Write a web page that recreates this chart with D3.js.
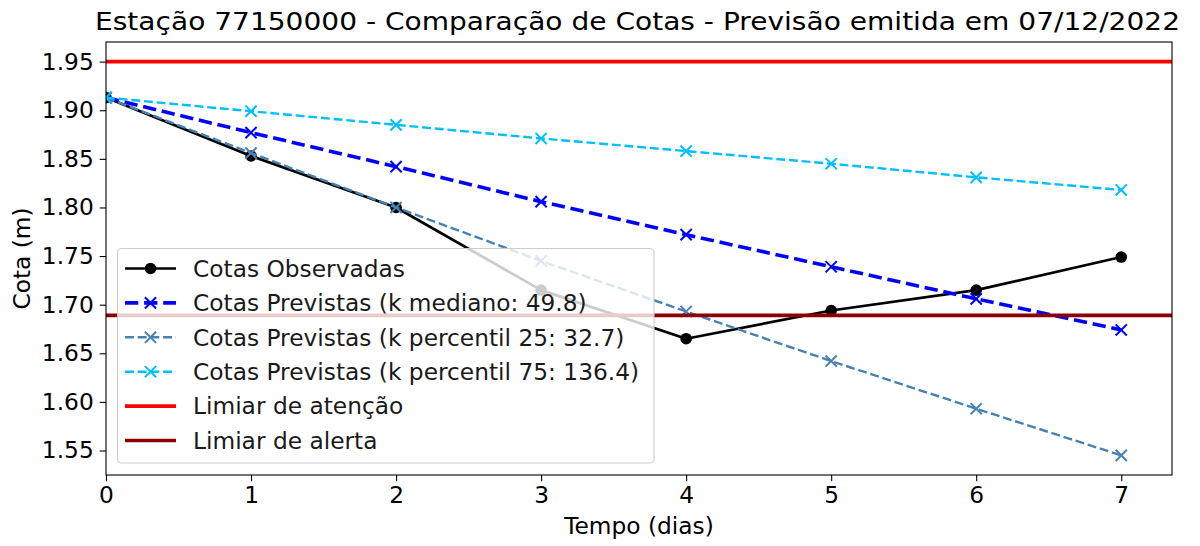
<!DOCTYPE html>
<html>
<head>
<meta charset="utf-8">
<style>
  body { margin: 0; background: #fff; }
  svg { display: block; font-family: "DejaVu Sans", sans-serif; }
</style>
</head>
<body>
<svg width="1200" height="546"></svg>
<script src="https://cdnjs.cloudflare.com/ajax/libs/d3/7.8.5/d3.min.js"></script>
<script>
// dias de previsao
var dias = [0, 1, 2, 3, 4, 5, 6, 7];
var observadas = [1.913, 1.853, 1.800, 1.715, 1.665, 1.694, 1.715, 1.749];
var kMediano = [1.913, 1.877, 1.842, 1.806, 1.772, 1.739, 1.706, 1.674];
var kP25 = [1.913, 1.856, 1.800, 1.745, 1.693, 1.642, 1.593, 1.545];
var kP75 = [1.913, 1.899, 1.885, 1.871, 1.858, 1.845, 1.831, 1.818];
var limiarAtencao = 1.95;
var limiarAlerta = 1.689;
var yTicks = [1.55, 1.60, 1.65, 1.70, 1.75, 1.80, 1.85, 1.90, 1.95];
var xTicks = [0, 1, 2, 3, 4, 5, 6, 7];

var titulo = "Estação 77150000 - Comparação de Cotas - Previsão emitida em 07/12/2022";
var fs = 23.3;

var svg = d3.select("svg"),
    margin = {top: 42, right: 28, bottom: 71, left: 106},
    width = 1200 - margin.left - margin.right,
    height = 546 - margin.top - margin.bottom;

var x = d3.scaleLinear().domain([0, 7.35]).range([margin.left, margin.left + width]);
var y = d3.scaleLinear().domain([1.5248, 1.9702]).range([margin.top + height, margin.top]);

var line = d3.line()
    .x(function(d, i) { return x(dias[i]); })
    .y(function(d) { return y(d); });

svg.append("clipPath").attr("id", "area")
  .append("rect")
    .attr("x", margin.left).attr("y", margin.top)
    .attr("width", width).attr("height", height);

var plot = svg.append("g").attr("clip-path", "url(#area)");

var series = [
  {nome: "Cotas Observadas", data: observadas, cor: "black", lw: 2.7, dash: null, marker: "o"},
  {nome: "Cotas Previstas (k mediano: 49.8)", data: kMediano, cor: "blue", lw: 3.6, dash: "13.3,5.8", marker: "x"},
  {nome: "Cotas Previstas (k percentil 25: 32.7)", data: kP25, cor: "steelblue", lw: 2.4, dash: "8.9,3.8", marker: "x"},
  {nome: "Cotas Previstas (k percentil 75: 136.4)", data: kP75, cor: "deepskyblue", lw: 2.4, dash: "8.9,3.8", marker: "x"}
];

function drawMarker(g, m, cx, cy, cor) {
  if (m === "o") {
    g.append("circle").attr("cx", cx).attr("cy", cy).attr("r", 5.8).attr("fill", cor);
  } else {
    var s = 5.6;
    g.append("path")
      .attr("d", "M" + (cx - s) + "," + (cy - s) + "L" + (cx + s) + "," + (cy + s) +
                 "M" + (cx - s) + "," + (cy + s) + "L" + (cx + s) + "," + (cy - s))
      .attr("stroke", cor).attr("stroke-width", 2).attr("fill", "none");
  }
}

series.forEach(function(s) {
  plot.append("path")
    .attr("d", line(s.data))
    .attr("fill", "none")
    .attr("stroke", s.cor)
    .attr("stroke-width", s.lw)
    .attr("stroke-dasharray", s.dash)
    .attr("stroke-linejoin", "round");
  var mg = plot.append("g");
  s.data.forEach(function(v, i) { drawMarker(mg, s.marker, x(dias[i]), y(v), s.cor); });
});

// limiares
plot.append("line")
  .attr("x1", margin.left).attr("x2", margin.left + width)
  .attr("y1", y(limiarAtencao)).attr("y2", y(limiarAtencao))
  .attr("stroke", "red").attr("stroke-width", 3.6);
plot.append("line")
  .attr("x1", margin.left).attr("x2", margin.left + width)
  .attr("y1", y(limiarAlerta)).attr("y2", y(limiarAlerta))
  .attr("stroke", "darkred").attr("stroke-width", 3.6);

// eixos
var xAxis = svg.append("g")
  .attr("transform", "translate(0," + (margin.top + height) + ")")
  .call(d3.axisBottom(x).tickValues(xTicks).tickFormat(d3.format("d")).tickSizeOuter(0).tickSize(6.3).tickPadding(5.5));
var yAxis = svg.append("g")
  .attr("transform", "translate(" + margin.left + ",0)")
  .call(d3.axisLeft(y).tickValues(yTicks).tickFormat(d3.format(".2f")).tickSizeOuter(0).tickSize(6.3).tickPadding(6));

[xAxis, yAxis].forEach(function(a) {
  a.select(".domain").remove();
  a.selectAll("line").attr("stroke", "black").attr("stroke-width", 1.1);
  a.selectAll("text").attr("font-family", "DejaVu Sans").attr("font-size", fs).attr("fill", "black");
});

svg.append("rect")
  .attr("x", margin.left).attr("y", margin.top)
  .attr("width", width).attr("height", height)
  .attr("fill", "none").attr("stroke", "black").attr("stroke-width", 1.1);

// legenda
var leg = svg.append("g");
leg.append("rect")
  .attr("x", 117.5).attr("y", 248.5).attr("width", 536.5).attr("height", 214.5)
  .attr("rx", 4).attr("fill", "white").attr("fill-opacity", 0.8)
  .attr("stroke", "#cccccc").attr("stroke-width", 1.1);

var legItems = series.concat([
  {nome: "Limiar de atenção", cor: "red", lw: 3.6, dash: null, marker: null},
  {nome: "Limiar de alerta", cor: "darkred", lw: 3.6, dash: null, marker: null}
]);
legItems.forEach(function(s, i) {
  var ly = 268.5 + i * 34.4;
  leg.append("line")
    .attr("x1", 125).attr("x2", 176).attr("y1", ly).attr("y2", ly)
    .attr("stroke", s.cor).attr("stroke-width", s.lw).attr("stroke-dasharray", s.dash);
  if (s.marker) drawMarker(leg, s.marker, 150.5, ly, s.cor);
  leg.append("text")
    .attr("x", 193).attr("y", ly + 8.3)
    .attr("font-size", fs).attr("fill", "#1a1a1a")
    .text(s.nome);
});

// titulos
svg.append("text")
  .attr("x", 95).attr("y", 29.5)
  .attr("font-size", 25.5).attr("fill", "black")
  .attr("textLength", 1085).attr("lengthAdjust", "spacingAndGlyphs")
  .text(titulo);
svg.append("text")
  .attr("x", margin.left + width / 2).attr("y", 534)
  .attr("text-anchor", "middle").attr("font-size", fs).attr("fill", "black")
  .text("Tempo (dias)");
svg.append("text")
  .attr("transform", "translate(30," + (margin.top + height / 2) + ") rotate(-90)")
  .attr("text-anchor", "middle").attr("font-size", fs).attr("fill", "black")
  .text("Cota (m)");
</script>
</body>
</html>
